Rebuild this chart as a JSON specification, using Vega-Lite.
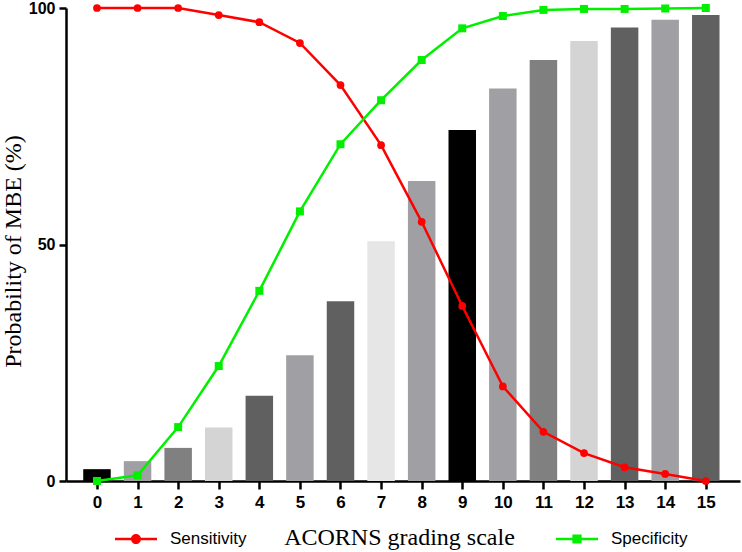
{
  "$schema": "https://vega.github.io/schema/vega-lite/v6.json",
  "autosize": "none",
  "width": 674,
  "height": 473,
  "padding": {"left": 66, "top": 8, "right": 2, "bottom": 71},
  "background": "white",
  "config": {
    "view": {"stroke": null},
    "axis": {"grid": false, "domainColor": "black", "tickColor": "black", "domainWidth": 2.5, "tickWidth": 2.5, "labelColor": "black", "titleColor": "black"}
  },
  "data": {
    "values": [
      {"score": 0, "prob": 2.5, "Sensitivity": 100, "Specificity": 0},
      {"score": 1, "prob": 4.2, "Sensitivity": 100, "Specificity": 1.2},
      {"score": 2, "prob": 7.0, "Sensitivity": 100, "Specificity": 11.4},
      {"score": 3, "prob": 11.3, "Sensitivity": 98.5, "Specificity": 24.3},
      {"score": 4, "prob": 18.0, "Sensitivity": 97.0, "Specificity": 40.2},
      {"score": 5, "prob": 26.6, "Sensitivity": 92.6, "Specificity": 57.0},
      {"score": 6, "prob": 38.0, "Sensitivity": 83.7, "Specificity": 71.2},
      {"score": 7, "prob": 50.7, "Sensitivity": 71.0, "Specificity": 80.5},
      {"score": 8, "prob": 63.4, "Sensitivity": 54.8, "Specificity": 89.0},
      {"score": 9, "prob": 74.2, "Sensitivity": 37.0, "Specificity": 95.7},
      {"score": 10, "prob": 83.0, "Sensitivity": 20.0, "Specificity": 98.3},
      {"score": 11, "prob": 89.0, "Sensitivity": 10.4, "Specificity": 99.6},
      {"score": 12, "prob": 93.0, "Sensitivity": 5.9, "Specificity": 99.8},
      {"score": 13, "prob": 95.9, "Sensitivity": 2.9, "Specificity": 99.8},
      {"score": 14, "prob": 97.5, "Sensitivity": 1.5, "Specificity": 99.9},
      {"score": 15, "prob": 98.5, "Sensitivity": 0, "Specificity": 100}
    ]
  },
  "encoding": {
    "x": {
      "field": "score", "type": "quantitative",
      "scale": {"domain": [-0.64, 15.72], "nice": false, "zero": false},
      "axis": {
        "values": [0,1,2,3,4,5,6,7,8,9,10,11,12,13,14,15],
        "format": "d",
        "title": "ACORNS grading scale",
        "titleFont": "Liberation Serif", "titleFontSize": 24, "titleFontWeight": "normal",
        "titlePadding": 15,
        "titleX": 333,
        "labelFont": "Liberation Sans", "labelFontSize": 17, "labelFontWeight": "bold",
        "tickSize": 8, "labelPadding": 5
      }
    }
  },
  "layer": [
    {
      "mark": {"type": "bar", "size": 27.5},
      "encoding": {
        "y": {
          "field": "prob", "type": "quantitative",
          "scale": {"domain": [0, 100], "nice": false},
          "axis": {
            "values": [0, 50, 100],
            "title": "Probability of MBE (%)",
            "titleFont": "Liberation Serif", "titleFontSize": 24, "titleFontWeight": "normal",
            "titlePadding": 3,
            "titleY": 243,
            "labelFont": "Liberation Sans", "labelFontSize": 16, "labelFontWeight": "bold",
            "tickSize": 7, "labelPadding": 4
          }
        },
        "fill": {
          "field": "score", "type": "nominal",
          "scale": {
            "domain": [0,1,2,3,4,5,6,7,8,9,10,11,12,13,14,15],
            "range": ["#000000","#a0a0a4","#808080","#d4d4d4","#606060","#a0a0a4","#606060","#e6e6e6","#a0a0a4","#000000","#a0a0a4","#808080","#d4d4d4","#606060","#a0a0a4","#606060"]
          },
          "legend": null
        }
      }
    },
    {
      "transform": [{"fold": ["Sensitivity", "Specificity"], "as": ["series", "val"]}],
      "mark": {"type": "line", "strokeWidth": 2.5},
      "encoding": {
        "y": {"field": "val", "type": "quantitative"},
        "color": {
          "field": "series", "type": "nominal",
          "scale": {"domain": ["Sensitivity", "Specificity"], "range": ["#ff0000", "#00f000"]},
          "legend": {
            "orient": "none",
            "legendX": 49,
            "legendY": 510,
            "direction": "horizontal",
            "title": null,
            "padding": 0,
            "columnPadding": 309,
            "labelFont": "Liberation Sans",
            "labelFontSize": 17,
            "labelColor": "black",
            "labelOffset": 13,
            "symbolSize": 1764,
            "symbolStrokeWidth": 0,
            "encode": {
              "symbols": {
                "update": {
                  "shape": {"signal": "datum.value === 'Sensitivity' ? 'M-1,-0.06L1,-0.06L1,0.06L-1,0.06Z M0.24,0A0.24,0.24 0 1,1 -0.24,0A0.24,0.24 0 1,1 0.24,0Z' : 'M-1,-0.06L1,-0.06L1,0.06L-1,0.06Z M-0.22,-0.22L0.22,-0.22L0.22,0.22L-0.22,0.22Z'"},
                  "size": {"value": 1764},
                  "fill": {"signal": "datum.value === 'Sensitivity' ? '#ff0000' : '#00f000'"},
                  "stroke": {"value": "transparent"},
                  "strokeWidth": {"value": 0},
                  "fillOpacity": {"value": 1},
                  "opacity": {"value": 1}
                }
              }
            }
          }
        }
      }
    },
    {
      "transform": [{"fold": ["Sensitivity"], "as": ["series", "val"]}],
      "mark": {"type": "point", "filled": true, "opacity": 1, "shape": "circle", "size": 60},
      "encoding": {
        "y": {"field": "val", "type": "quantitative"},
        "color": {"field": "series", "type": "nominal", "legend": null}
      }
    },
    {
      "transform": [{"fold": ["Specificity"], "as": ["series", "val"]}],
      "mark": {"type": "point", "filled": true, "opacity": 1, "shape": "square", "size": 64},
      "encoding": {
        "y": {"field": "val", "type": "quantitative"},
        "color": {"field": "series", "type": "nominal", "legend": null}
      }
    }
  ]
}
